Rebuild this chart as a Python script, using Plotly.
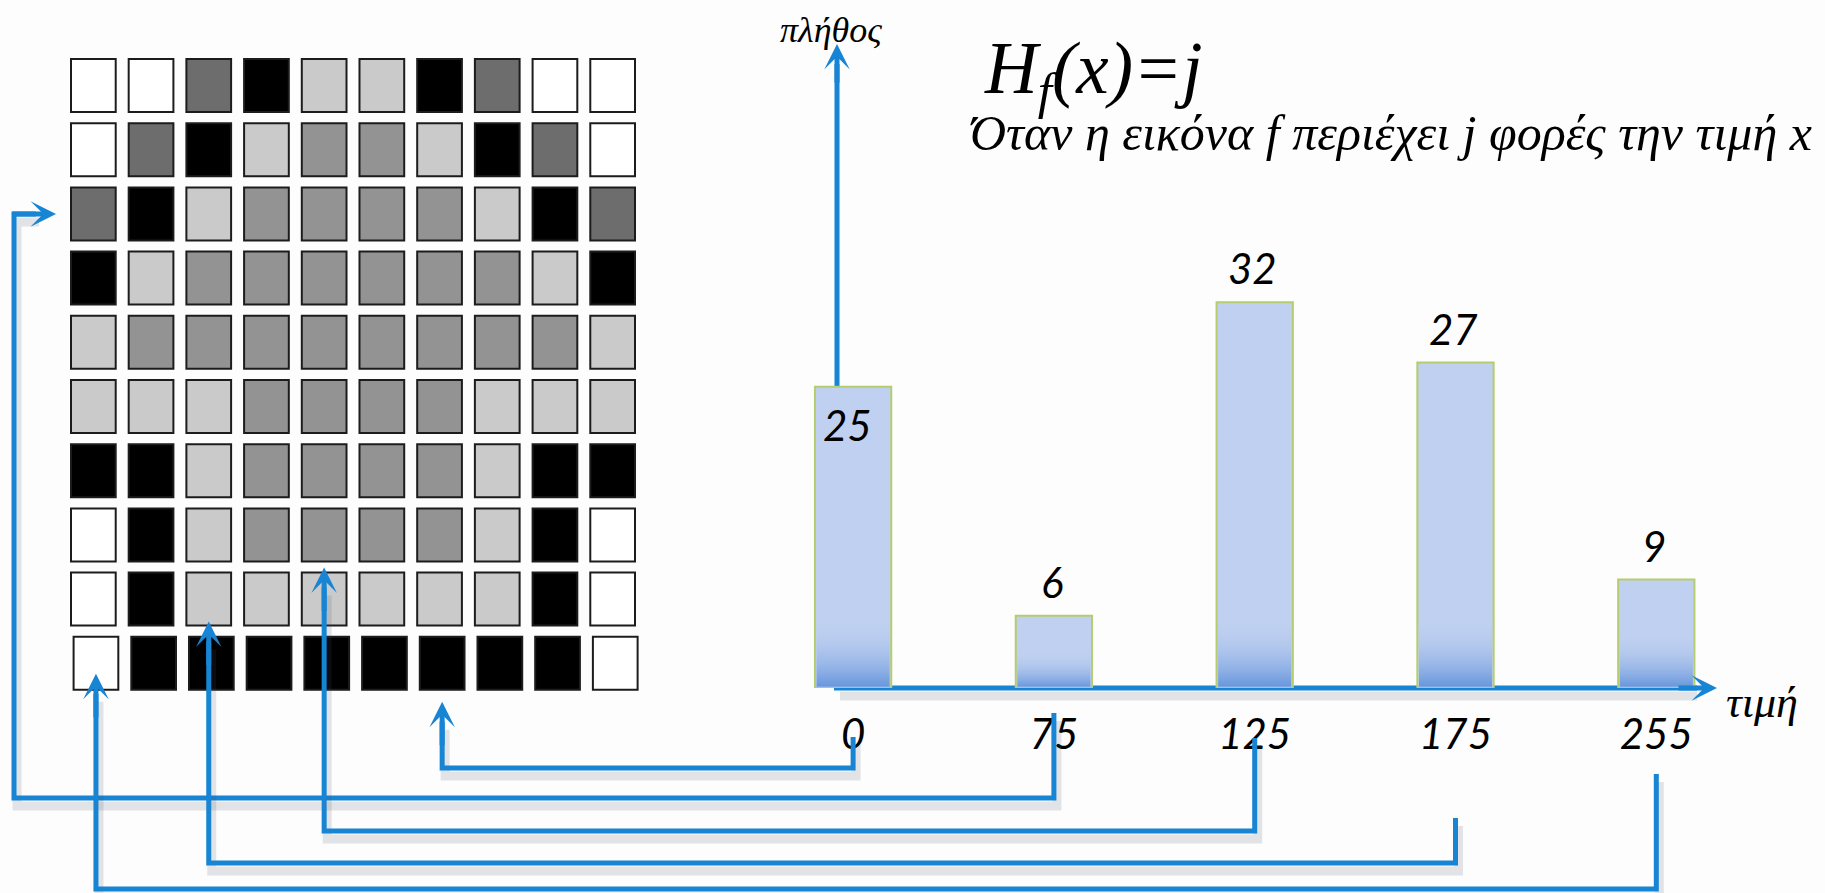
import plotly.graph_objects as go

# ---------------------------------------------------------------- data
# grey value of every pixel of the 10x10 example image (row 0 = top row)
PIXELS = [
    [255, 255, 75, 0, 175, 175, 0, 75, 255, 255],
    [255, 75, 0, 175, 125, 125, 175, 0, 75, 255],
    [75, 0, 175, 125, 125, 125, 125, 175, 0, 75],
    [0, 175, 125, 125, 125, 125, 125, 125, 175, 0],
    [175, 125, 125, 125, 125, 125, 125, 125, 125, 175],
    [175, 175, 175, 125, 125, 125, 125, 175, 175, 175],
    [0, 0, 175, 125, 125, 125, 125, 175, 0, 0],
    [255, 0, 175, 125, 125, 125, 125, 175, 0, 255],
    [255, 0, 175, 175, 175, 175, 175, 175, 0, 255],
    [255, 0, 0, 0, 0, 0, 0, 0, 0, 255],
]

LEVELS = ["0", "75", "125", "175", "255"]          # histogram bins (grey value)
COUNTS = [25, 6, 32, 27, 9]                         # number of pixels per bin
EXAMPLE_PIXEL = [(9, 6), (2, 0), (7, 4), (8, 2), (9, 0)]   # (row, col) each bin points to

TITLE = "H<sub>f</sub>(x)=j"
SUBTITLE = "Όταν η εικόνα f περιέχει j φορές την τιμή x"
Y_LABEL = "πλήθος"
X_LABEL = "τιμή"

# ---------------------------------------------------------------- style
W, H = 1825, 893
BLUE = "#1784d4"
SHADOW = "rgba(70,80,100,0.15)"
SHADE = {0: "#000000", 75: "#6d6d6d", 125: "#939393", 175: "#cacaca", 255: "#ffffff"}
BAR_FILL = "#bfd0f0"
BAR_EDGE = "#b5cd6e"
SERIF = "Liberation Serif"
SANS = "Lato"

# pixel frames of the two panels
GX0, GX1, GY0, GY1 = 64.5, 641.5, 53.4, 695.4       # image grid
BX0, BX1, BY_BASE, BY_TOP = 752.7, 1756.7, 688.0, 44.0   # histogram
Y_MAX = 53.43
CELL_W, CELL_H = 0.775, 0.826
LAST_ROW_SHIFT = 0.045
BAR_WIDTH = 0.38

# connector routing (pixels)
ROUTE_Y = [768, 798, 831, 863, 889]
LABEL_END_Y = [737, 713, 738, 818, 774]
ENTRY = ["below", "left", "below", "below", "below"]
TIP_GAP = [12, 15, 6, -4, -16]
LEFT_RAIL_X = 14
LINE_W = 5


def px_x(x):
    return x / W


def px_y(y):
    return 1 - y / H


def grid_px(row, col):
    pitch_x = (GX1 - GX0) / 10
    pitch_y = (GY1 - GY0) / 10
    shift = LAST_ROW_SHIFT if row == 9 else 0
    return GX0 + (col + 0.5 + shift) * pitch_x, GY0 + (row + 0.5) * pitch_y, pitch_x, pitch_y


def bar_px(i):
    return BX0 + (i + 0.5) * (BX1 - BX0) / len(LEVELS)


fig = go.Figure()

# ---------------------------------------------------------------- image grid
shapes = []
for r, row in enumerate(PIXELS):
    for c, v in enumerate(row):
        dx = LAST_ROW_SHIFT if r == 9 else 0
        shapes.append(dict(
            type="rect", xref="x2", yref="y2", layer="below",
            x0=c + dx - CELL_W / 2, x1=c + dx + CELL_W / 2,
            y0=r - CELL_H / 2, y1=r + CELL_H / 2,
            fillcolor=SHADE[v], line=dict(color="#1c1c1c", width=2),
        ))

fig.add_trace(go.Scatter(
    x=[c for r in range(10) for c in range(10)],
    y=[r for r in range(10) for c in range(10)],
    text=[str(PIXELS[r][c]) for r in range(10) for c in range(10)],
    mode="markers", marker=dict(size=30, opacity=0),
    hovertemplate="%{text}<extra></extra>",
    xaxis="x2", yaxis="y2",
))

# ---------------------------------------------------------------- histogram
xs = list(range(len(LEVELS)))
fig.add_trace(go.Bar(
    x=xs, y=COUNTS, width=BAR_WIDTH,
    marker=dict(color=BAR_FILL, line=dict(color=BAR_EDGE, width=2)),
    hovertemplate="%{y}<extra></extra>",
    xaxis="x", yaxis="y",
))

# darker glow at the foot of every bar
for i, v in enumerate(COUNTS):
    h = min(5.6, 0.5 * v)
    half = BAR_WIDTH / 2 - 0.008
    fig.add_trace(go.Scatter(
        x=[i - half, i + half, i + half, i - half, i - half],
        y=[0.1, 0.1, h, h, 0.1],
        mode="lines", line=dict(width=0), fill="toself",
        fillgradient=dict(type="vertical", start=0, stop=h,
                          colorscale=[[0, "rgba(95,145,218,0.95)"],
                                      [0.5, "rgba(145,178,230,0.5)"],
                                      [1, "rgba(191,208,240,0)"]]),
        hoverinfo="skip", xaxis="x", yaxis="y",
    ))

# value labels
annotations = []
for i, v in enumerate(COUNTS):
    inside = i == 0
    annotations.append(dict(
        xref="x", yref="y", x=i, y=v, text=str(v), showarrow=False,
        yshift=-38 if inside else 34, xshift=-6 if inside else -2,
        font=dict(family=SANS, size=42, color="black", style="italic"),
    ))

# ---------------------------------------------------------------- axis arrows
# drawn on paper underneath the bars
y_axis_x = 837
x_axis_end = 1717
shapes += [
    dict(type="line", xref="paper", yref="paper", layer="below",
         x0=px_x(y_axis_x + 3), x1=px_x(x_axis_end - 20),
         y0=px_y(BY_BASE + 8), y1=px_y(BY_BASE + 8),
         line=dict(color=SHADOW, width=9)),
    dict(type="line", xref="paper", yref="paper", layer="below",
         x0=px_x(y_axis_x), x1=px_x(y_axis_x), y0=px_y(BY_BASE), y1=px_y(BY_TOP + 20),
         line=dict(color=BLUE, width=LINE_W)),
    dict(type="line", xref="paper", yref="paper", layer="below",
         x0=px_x(y_axis_x - 3), x1=px_x(x_axis_end - 20), y0=px_y(BY_BASE), y1=px_y(BY_BASE),
         line=dict(color=BLUE, width=LINE_W)),
]


def arrow_head(x, y, tx, ty):
    return dict(xref="x3", yref="y3", axref="x3", ayref="y3",
                x=x, y=y, ax=tx, ay=ty, text="", showarrow=True,
                arrowhead=3, arrowsize=0.85, arrowwidth=LINE_W,
                arrowcolor=BLUE, standoff=0)


annotations.append(arrow_head(y_axis_x, BY_TOP, y_axis_x, BY_TOP + 40))
annotations.append(arrow_head(x_axis_end, BY_BASE, x_axis_end - 40, BY_BASE))

# ---------------------------------------------------------------- connectors
for i, (row, col) in enumerate(EXAMPLE_PIXEL):
    cx, cy, px, py = grid_px(row, col)
    bx = bar_px(i)
    if ENTRY[i] == "below":
        tip = (cx, cy + CELL_H * py / 2 + TIP_GAP[i])
        tail = (cx, tip[1] + 45)
        path = [(bx, LABEL_END_Y[i]), (bx, ROUTE_Y[i]), (cx, ROUTE_Y[i]), (cx, tip[1] + 20)]
    else:
        tip = (cx - CELL_W * px / 2 - TIP_GAP[i], cy)
        tail = (tip[0] - 45, cy)
        path = [(bx, LABEL_END_Y[i]), (bx, ROUTE_Y[i]), (LEFT_RAIL_X, ROUTE_Y[i]),
                (LEFT_RAIL_X, cy), (tip[0] - 20, cy)]
    fig.add_trace(go.Scatter(
        x=[p[0] + 3 for p in path], y=[p[1] + 8 for p in path],
        mode="lines", line=dict(color=SHADOW, width=9),
        hoverinfo="skip", xaxis="x3", yaxis="y3",
    ))
    fig.add_trace(go.Scatter(
        x=[p[0] for p in path], y=[p[1] for p in path],
        mode="lines", line=dict(color=BLUE, width=LINE_W),
        hoverinfo="skip", xaxis="x3", yaxis="y3",
    ))
    annotations.append(arrow_head(tip[0], tip[1], tail[0], tail[1]))

# ---------------------------------------------------------------- texts
annotations += [
    dict(xref="x3", yref="y3", x=831, y=30, text=Y_LABEL, showarrow=False,
         xanchor="center", yanchor="middle",
         font=dict(family=SERIF, size=36, color="black", style="italic")),
    dict(xref="x3", yref="y3", x=1724, y=702, text=X_LABEL, showarrow=False,
         xanchor="left", yanchor="middle",
         font=dict(family=SERIF, size=44, color="black", style="italic")),
    dict(xref="x3", yref="y3", x=982, y=73, text=TITLE, showarrow=False,
         xanchor="left", yanchor="middle",
         font=dict(family=SERIF, size=73, color="black", style="italic")),
    dict(xref="x3", yref="y3", x=968, y=133, text=SUBTITLE, showarrow=False,
         xanchor="left", yanchor="middle",
         font=dict(family=SERIF, size=50, color="black", style="italic")),
]

hidden = dict(visible=False, showgrid=False, zeroline=False, fixedrange=True)
fig.update_layout(
    width=W, height=H,
    margin=dict(l=0, r=0, t=0, b=0),
    paper_bgcolor="#fdfdfd", plot_bgcolor="rgba(0,0,0,0)",
    showlegend=False,
    shapes=shapes, annotations=annotations,
    xaxis=dict(domain=[BX0 / W, BX1 / W], range=[-0.5, len(LEVELS) - 0.5],
               tickvals=xs, ticktext=LEVELS, ticks="", showline=False,
               showgrid=False, zeroline=False, fixedrange=True, anchor="y",
               ticklabelstandoff=18,
               tickfont=dict(family=SANS, size=42, color="black", style="italic")),
    yaxis=dict(domain=[1 - BY_BASE / H, 1 - BY_TOP / H], range=[0, Y_MAX],
               anchor="x", **hidden),
    xaxis2=dict(domain=[GX0 / W, GX1 / W], range=[-0.5, 9.5], anchor="y2", **hidden),
    yaxis2=dict(domain=[1 - GY1 / H, 1 - GY0 / H], range=[9.5, -0.5], anchor="x2", **hidden),
    xaxis3=dict(domain=[0, 1], range=[0, W], anchor="y3", **hidden),
    yaxis3=dict(domain=[0, 1], range=[H, 0], anchor="x3", **hidden),
)

fig.write_html("out.html")
